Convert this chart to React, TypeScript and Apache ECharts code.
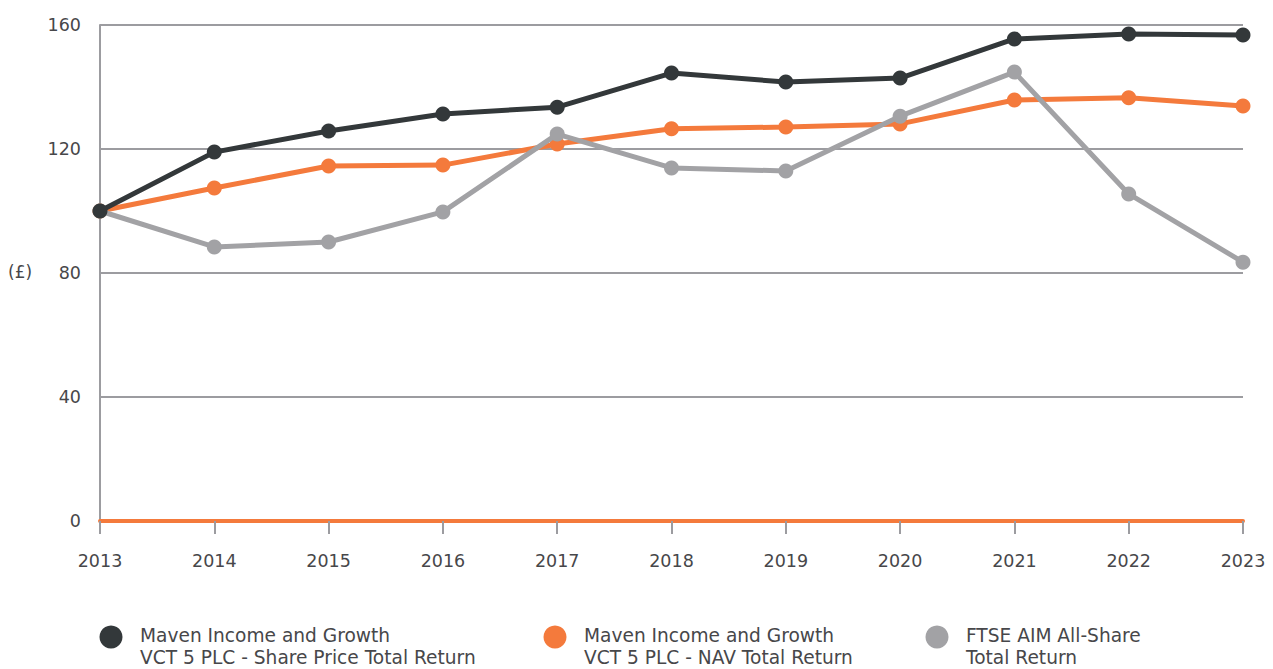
import React, { useEffect, useRef } from "react";
import * as echarts from "echarts";

const years = ["2013", "2014", "2015", "2016", "2017", "2018", "2019", "2020", "2021", "2022", "2023"];
const sharePrice = [100, 119, 125.8, 131.3, 133.5, 144.5, 141.6, 142.9, 155.5, 157.1, 156.8];
const navReturn = [100, 107.4, 114.5, 114.8, 121.6, 126.5, 127.1, 128.1, 135.8, 136.5, 133.9];
const ftseAim = [100, 88.4, 90, 99.7, 124.8, 113.9, 112.9, 130.6, 144.8, 105.5, 83.5];
const seriesNames = [
  "Maven Income and Growth\nVCT 5 PLC - Share Price Total Return",
  "Maven Income and Growth\nVCT 5 PLC - NAV Total Return",
  "FTSE AIM All-Share\nTotal Return",
];
const colors = ["#33383a", "#f47a3c", "#a2a2a5"];

const FONT = "DejaVu Sans";
const TEXT = "#47474a";

export default function App() {
  const ref = useRef<HTMLDivElement>(null);
  useEffect(() => {
    document.body.style.margin = "0";
    if (!ref.current) return;
    const chart = echarts.init(ref.current, null, { renderer: "svg" });
    const mk = (i: number, data: number[], z: number) => ({
      name: seriesNames[i],
      type: "line",
      data,
      z,
      symbol: "circle",
      symbolSize: 15,
      lineStyle: { color: colors[i], width: 5 },
      itemStyle: { color: colors[i] },
    });
    const legendX = [111, 555, 937];
    const graphic: any[] = [
      {
        type: "text",
        x: 8,
        y: 272,
        style: { text: "(£)", fill: TEXT, font: `17px "${FONT}"`, verticalAlign: "middle" },
      },
    ];
    seriesNames.forEach((n, i) => {
      graphic.push({
        type: "circle",
        shape: { cx: legendX[i], cy: 637, r: 11.5 },
        style: { fill: colors[i] },
      });
      graphic.push({
        type: "text",
        x: legendX[i] + 29,
        y: 624,
        style: { text: n, fill: TEXT, font: `18.6px "${FONT}"`, lineHeight: 22, verticalAlign: "top" },
      });
    });
    chart.setOption({
      animation: false,
      textStyle: { fontFamily: FONT },
      grid: { left: 100, right: 30, top: 25, height: 496 },
      xAxis: {
        type: "category",
        data: years,
        boundaryGap: false,
        axisLine: { show: true, lineStyle: { color: "#f47a3c", width: 4 } },
        axisTick: { show: true, length: 13, lineStyle: { color: "#9c9ca0", width: 2 } },
        axisLabel: { color: TEXT, fontSize: 17.5, margin: 31 },
        splitLine: { show: false },
      },
      yAxis: {
        type: "value",
        min: 0,
        max: 160,
        interval: 40,
        axisLine: { show: true, lineStyle: { color: "#9c9ca0", width: 2 } },
        axisTick: { show: false },
        axisLabel: { color: TEXT, fontSize: 17.5, margin: 19 },
        splitLine: { show: true, lineStyle: { color: "#9c9ca0", width: 2 } },
      },
      series: [mk(1, navReturn, 2), mk(2, ftseAim, 3), mk(0, sharePrice, 4)],
      graphic,
    });
    return () => chart.dispose();
  }, []);
  return <div ref={ref} style={{ width: 1273, height: 669 }} />;
}
